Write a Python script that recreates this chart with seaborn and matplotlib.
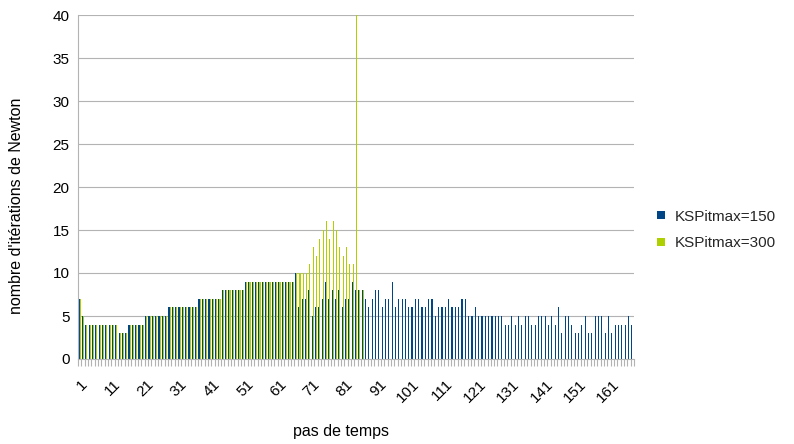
import numpy as np
import pandas as pd
import seaborn as sns
import matplotlib.pyplot as plt
from matplotlib.lines import Line2D

# nombre d'iterations de Newton par pas de temps
ksp150 = [7, 5, 4, 4, 4, 4, 4, 4, 4, 4, 4, 4, 3, 3, 3, 4, 4, 4, 4, 4,
          5, 5, 5, 5, 5, 5, 5, 6, 6, 6, 6, 6, 6, 6, 6, 6, 7, 7, 7, 7,
          7, 7, 7, 8, 8, 8, 8, 8, 8, 8, 9, 9, 9, 9, 9, 9, 9, 9, 9, 9,
          9, 9, 9, 9, 9, 10, 6, 7, 7, 8, 5, 6, 6, 7, 9, 7, 8, 7, 8, 6,
          7, 7, 9, 8, 8, 8, 7, 6, 7, 8, 8, 6, 7, 7, 9, 6, 7, 7, 7,
          6, 6, 7, 7, 6, 6, 7, 7, 5, 6, 6, 6, 7, 6, 6, 6, 7, 7, 5, 5,
          6, 5, 5, 5, 5, 5, 5, 5, 5, 4, 4, 5, 4, 5, 4, 5, 5, 4, 4, 5,
          5, 5, 4, 5, 4, 6, 3, 5, 5, 4, 3, 3, 4, 5, 3, 3, 5, 5, 5, 3,
          5, 3, 4, 4, 4, 4, 5, 4]
ksp300 = [7, 5, 4, 4, 4, 4, 4, 4, 4, 4, 4, 4, 3, 3, 3, 4, 4, 4, 4, 4,
          5, 5, 5, 5, 5, 5, 5, 6, 6, 6, 6, 6, 6, 6, 6, 6, 7, 7, 7, 7,
          7, 7, 7, 8, 8, 8, 8, 8, 8, 8, 9, 9, 9, 9, 9, 9, 9, 9, 9, 9,
          9, 9, 9, 9, 9, 10, 10, 10, 10, 11, 13, 12, 14, 15, 16, 14, 16, 15, 13, 12,
          13, 11, 11, 40, 8, 8]
series_names = ["KSPitmax=150", "KSPitmax=300"]
colors = ["#004586", "#aecf00"]

steps = list(range(1, len(ksp150) + 1))
tick_labels = [str(s) for s in steps[::10]]

df = pd.concat([
    pd.DataFrame({"pas": steps, "iters": ksp150, "serie": series_names[0]}),
    pd.DataFrame({"pas": steps[:len(ksp300)], "iters": ksp300, "serie": series_names[1]}),
])

sns.set_theme(style="white")
plt.rcParams["font.family"] = ["Liberation Sans", "DejaVu Sans"]

fig = plt.figure(figsize=(7.94, 4.44), dpi=100)
ax = fig.add_axes([78 / 794, 1 - 359 / 444, 556 / 794, 344 / 444])

sns.barplot(data=df, x="pas", y="iters", hue="serie", order=steps,
            hue_order=series_names, palette=colors, width=0.667,
            linewidth=0, saturation=1, errorbar=None, legend=False, ax=ax)

ax.set_ylim(0, 40)
ax.set_xlim(-0.5, len(steps) - 0.5)
ax.set_yticks(range(0, 41, 5))
ax.yaxis.grid(True, color="#b3b3b3", linewidth=0.8)
ax.set_axisbelow(True)
for side in ["top", "right"]:
    ax.spines[side].set_visible(False)
for side in ["left", "bottom"]:
    ax.spines[side].set_color("#b3b3b3")
    ax.spines[side].set_linewidth(0.8)

ax.set_xticks(range(0, len(steps), 10))
ax.set_xticklabels(tick_labels, rotation=45, ha="right", rotation_mode="anchor")
ax.set_xticks(np.arange(-0.5, len(steps), 1), minor=True)
ax.tick_params(axis="x", which="major", length=0, pad=13, labelsize=11, labelcolor="black")
ax.tick_params(axis="x", which="minor", length=5, width=0.8, color="#b3b3b3", bottom=True)
ax.tick_params(axis="y", length=0, pad=6, labelsize=11, labelcolor="black")

ax.set_xlabel("pas de temps", fontsize=11.5, color="black")
ax.xaxis.set_label_coords(0.473, -0.19)
ax.set_ylabel("nombre d'itérations de Newton", fontsize=11.5, color="black")
ax.yaxis.set_label_coords(-0.098, 0.445)

handles = [Line2D([0], [0], marker="s", color="none", markerfacecolor=c,
                  markeredgewidth=0, markersize=6) for c in colors]
fig.legend(handles, series_names, loc="center left",
           bbox_to_anchor=(641 / 794, 1 - 230 / 444), frameon=False,
           fontsize=11, handlelength=0.8, handletextpad=0.5, labelspacing=0.85)

fig.savefig("out.png", dpi=100)
